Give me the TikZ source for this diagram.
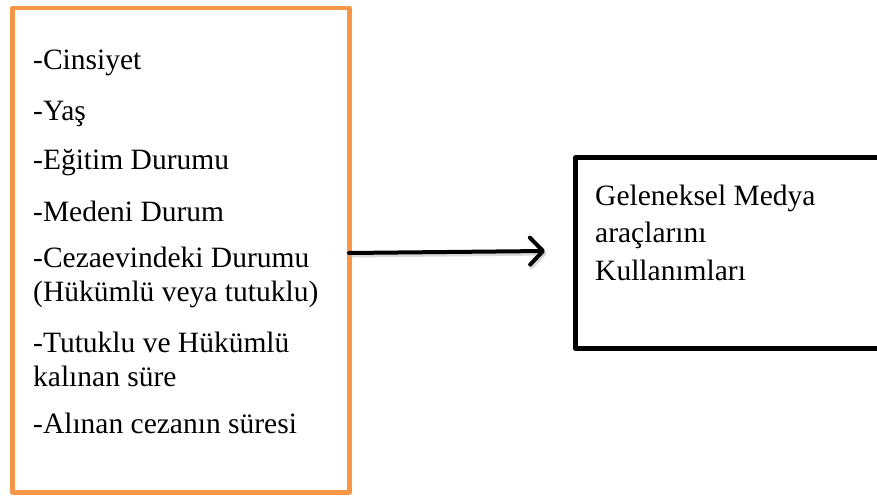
\documentclass[tikz,border=0pt]{standalone}
\usepackage{fontspec}
\setmainfont{Liberation Serif}
\usetikzlibrary{arrows.meta}
\definecolor{boxorange}{HTML}{F79646}
\tikzset{
  frame/.style={draw=#1, anchor=north west, inner sep=0pt, line join=round},
  itemtext/.style={anchor=base west, inner sep=0pt, align=left, font=\fontsize{29.5}{34}\selectfont},
  boxtext/.style={anchor=base west, inner sep=0pt, align=left, font=\fontsize{29.5}{37.5}\selectfont},
  conn/.style={line width=4pt, line cap=round, -{Straight Barb[length=13pt,width=27pt,line width=4pt,line cap=round,line join=round]}}
}
\begin{document}
\begin{tikzpicture}[x=1pt,y=-1pt]
\useasboundingbox (0,0) rectangle (877,497);
\node[frame=boxorange, line width=4.5pt, minimum width=337pt, minimum height=484pt] (left) at (10,6) {};
\node[frame=black, line width=5pt, minimum width=320pt, minimum height=191pt] (right) at (573,155) {};
\node[itemtext] (t1) at (33,70) {-Cinsiyet};
\node[itemtext] (t2) at (33,121) {-Yaş};
\node[itemtext] (t3) at (33,170) {-Eğitim Durumu};
\node[itemtext] (t4) at (33,221) {-Medeni Durum};
\node[itemtext] (t5) at (33,301) {-Cezaevindeki Durumu\\(Hükümlü veya tutuklu)};
\node[itemtext] (t6) at (33,386) {-Tutuklu ve Hükümlü\\kalınan süre};
\node[itemtext] (t7) at (33,433) {-Alınan cezanın süresi};
\node[boxtext] (r1) at (595,280) {Geleneksel Medya\\araçlarını\\Kullanımları};
\coordinate (a0) at (349,253);
\coordinate (a1) at (545,251);
\draw[conn, black!25, opacity=0.6] ([shift={(1.5,2.5)}]a0) -- ([shift={(1.5,2.5)}]a1);
\draw[conn] (a0) -- (a1);
\end{tikzpicture}
\end{document}
